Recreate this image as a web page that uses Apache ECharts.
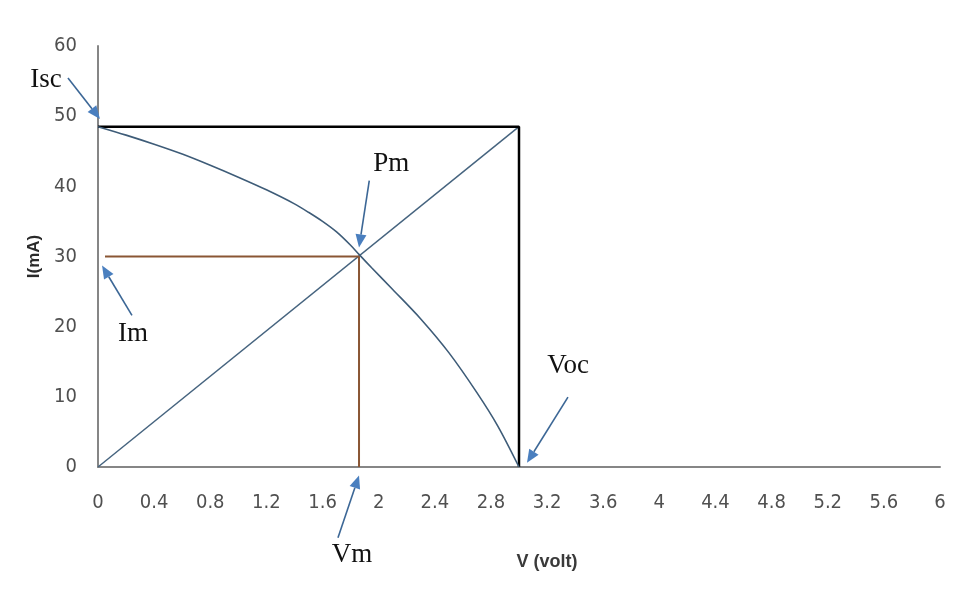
<!DOCTYPE html>
<html>
<head>
<meta charset="utf-8">
<script src="https://cdn.jsdelivr.net/npm/echarts@6/dist/echarts.min.js"></script>
<style>
  html, body { margin: 0; padding: 0; background: #ffffff; }
  #chart { width: 972px; height: 596px; }
</style>
</head>
<body>
<div id="chart"></div>
<script>
// ---- Data ----
const voltage = [0, 0.2, 0.4, 0.6, 0.8, 1.0, 1.2, 1.4, 1.5, 1.6, 1.7, 1.8, 1.86, 1.95, 2.1, 2.3, 2.5, 2.7, 2.85, 3.0];
const current = [48.5, 47.3, 46.0, 44.6, 43.0, 41.3, 39.5, 37.5, 36.3, 35.0, 33.5, 31.6, 30.3, 28.4, 25.3, 21.1, 16.3, 10.6, 5.8, 0];

const iscValue = 48.5;   // short-circuit current (mA)
const vocValue = 3.0;    // open-circuit voltage (V)
const vmValue = 1.86;    // voltage at max power
const imValue = 30;      // current at max power

const xTickLabels = ['0', '0.4', '0.8', '1.2', '1.6', '2', '2.4', '2.8', '3.2', '3.6', '4', '4.4', '4.8', '5.2', '5.6', '6'];
const yTickLabels = ['0', '10', '20', '30', '40', '50', '60'];

// annotation labels: text, text anchor, arrow tail, arrow tip (data coordinates)
const annoText = ['Isc', 'Im', 'Pm', 'Voc', 'Vm'];
const annoTextPos = [[-0.37, 55.2], [0.25, 19.0], [2.09, 43.2], [3.35, 14.4], [1.81, -12.5]];
const annoTail = [[-0.214, 55.45], [0.242, 21.6], [1.933, 40.8], [3.349, 9.95], [1.71, -10.1]];
const annoTip = [[0.014, 49.6], [0.029, 28.7], [1.86, 31.3], [3.057, 0.6], [1.86, -1.2]];

const curveData = voltage.map((v, i) => [v, current[i]]);
const rectData = [[0, iscValue], [vocValue, iscValue], [vocValue, 0]];
const diagData = [[0, 0], [vocValue, iscValue]];
const mppData = [[0.05, imValue], [vmValue, imValue], [vmValue, 0]];

const chart = echarts.init(document.getElementById('chart'), null, { renderer: 'canvas' });

const tickFont = "'Liberation Sans Narrow', 'DejaVu Sans Condensed', 'Liberation Sans', sans-serif";

const option = {
  backgroundColor: '#ffffff',
  animation: false,
  grid: { left: 98, right: 32, top: 46, bottom: 129, containLabel: false },
  xAxis: {
    type: 'value',
    min: 0, max: 6, interval: 0.4,
    name: 'V (volt)',
    nameLocation: 'middle',
    nameGap: 86,
    nameTextStyle: { fontFamily: 'Liberation Sans, sans-serif', fontWeight: 'bold', fontSize: 18, color: '#3a3a3a', padding: [0, 0, 0, 56] },
    axisLine: { show: true, onZero: false, lineStyle: { color: '#868686', width: 2 } },
    axisTick: { show: false },
    splitLine: { show: false },
    axisLabel: {
      margin: 26,
      fontFamily: tickFont, fontSize: 20, color: '#505050',
      formatter: (v) => xTickLabels[Math.round(v / 0.4)]
    }
  },
  yAxis: {
    type: 'value',
    min: 0, max: 60, interval: 10,
    name: 'I(mA)',
    nameLocation: 'middle',
    nameRotate: 90,
    nameGap: 50,
    nameTextStyle: { fontFamily: 'Liberation Sans, sans-serif', fontWeight: 'bold', fontSize: 17, color: '#2a2a2a' },
    axisLine: { show: true, lineStyle: { color: '#868686', width: 2 } },
    axisTick: { show: false },
    splitLine: { show: false },
    axisLabel: {
      margin: 21,
      fontFamily: tickFont, fontSize: 20, color: '#505050',
      formatter: (v) => yTickLabels[Math.round(v / 10)]
    }
  },
  series: [
    {
      name: 'Rectangle', type: 'line', data: rectData, symbol: 'none',
      lineStyle: { color: '#000000', width: 2.5 }, z: 3
    },
    {
      name: 'Diagonal', type: 'line', data: diagData, symbol: 'none',
      lineStyle: { color: '#46647f', width: 1.5 }, z: 2
    },
    {
      name: 'MPP', type: 'line', data: mppData, symbol: 'none',
      lineStyle: { color: '#8a5634', width: 2 }, z: 2
    },
    {
      name: 'I-V', type: 'line', data: curveData, symbol: 'none', smooth: 0.3,
      lineStyle: { color: '#3e5c78', width: 1.6 }, z: 4
    }
  ]
};

chart.setOption(option);

function buildAnnotations() {
  const els = [];
  for (let i = 0; i < annoText.length; i++) {
    const tp = chart.convertToPixel({ gridIndex: 0 }, annoTextPos[i]);
    const a = chart.convertToPixel({ gridIndex: 0 }, annoTail[i]);
    const b = chart.convertToPixel({ gridIndex: 0 }, annoTip[i]);
    const dx = b[0] - a[0], dy = b[1] - a[1];
    const len = Math.sqrt(dx * dx + dy * dy);
    const ux = dx / len, uy = dy / len;
    const headLen = 13, headW = 5.5;
    const bx = b[0] - ux * headLen, by = b[1] - uy * headLen;
    els.push({
      type: 'line', silent: true, z: 10,
      shape: { x1: a[0], y1: a[1], x2: bx, y2: by },
      style: { stroke: '#3c6796', lineWidth: 1.6 }
    });
    els.push({
      type: 'polygon', silent: true, z: 10,
      shape: { points: [[b[0], b[1]], [bx - uy * headW, by + ux * headW], [bx + uy * headW, by - ux * headW]] },
      style: { fill: '#4a7fbf' }
    });
    els.push({
      type: 'text', silent: true, z: 10,
      x: tp[0], y: tp[1],
      style: {
        text: annoText[i],
        font: "27px 'Liberation Serif', 'DejaVu Serif', serif",
        fill: '#111111', align: 'center', verticalAlign: 'middle'
      }
    });
  }
  chart.setOption({ graphic: { elements: els } });
}
buildAnnotations();
</script>
</body>
</html>
